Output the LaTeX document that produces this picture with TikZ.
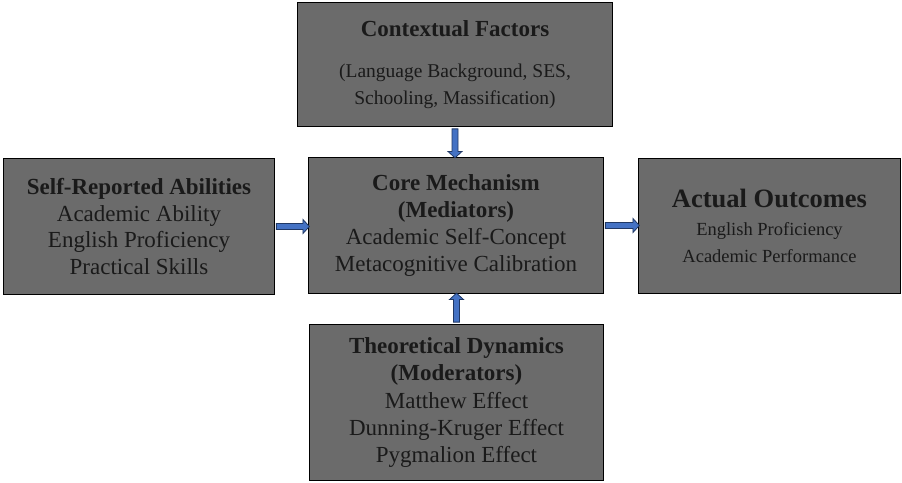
\documentclass[tikz,border=0pt]{standalone}
\usepackage{fontspec}
\setmainfont{Liberation Serif}
\usetikzlibrary{shapes.arrows}
\definecolor{boxgray}{HTML}{6B6B6B}
\definecolor{txt}{HTML}{1A1A1A}
\definecolor{arrfill}{HTML}{4472C4}
\definecolor{arrline}{HTML}{203864}
\begin{document}
\begin{tikzpicture}[x=1pt,y=-1pt,
  box/.style={draw=black, line width=1pt, fill=boxgray, text=txt, align=center,
    inner sep=0pt, anchor=north west, font=\fontsize{23}{26.7}\selectfont},
  blockarrow/.style={single arrow, draw=arrline, fill=arrfill, line width=0.8pt,
    inner xsep=0pt, inner ysep=2.6pt, single arrow head extend=4pt,
    single arrow tip angle=95, sloped, allow upside down},
]
\useasboundingbox (0,0) rectangle (902,482);

\node[box, minimum width=315, minimum height=124] (ctx) at (297,2)
  {{\bfseries Contextual Factors}\\[14pt]
   {\fontsize{19.5}{26}\selectfont (Language Background, SES,}\\
   {\fontsize{19.5}{26}\selectfont Schooling, Massification)}};

\node[box, minimum width=295, minimum height=136] (core) at (308,157)
  {\textbf{Core Mechanism}\\ \textbf{(Mediators)}\\ Academic Self-Concept\\ Metacognitive Calibration};

\node[box, minimum width=271, minimum height=136] (self) at (3,158)
  {\textbf{Self-Reported Abilities}\\ Academic Ability\\ English Proficiency\\ Practical Skills};

\node[box, minimum width=262, minimum height=135] (act) at (638,158)
  {{\fontsize{26.5}{30}\selectfont\bfseries Actual Outcomes}\\[1pt]
   {\fontsize{18.5}{27}\selectfont English Proficiency}\\
   {\fontsize{18.5}{27}\selectfont Academic Performance}};

\node[box, minimum width=294, minimum height=156,
      font=\fontsize{23}{27.3}\selectfont] (theo) at (309,324)
  {\textbf{Theoretical Dynamics}\\ \textbf{(Moderators)}\\ Matthew Effect\\ Dunning-Kruger Effect\\ Pygmalion Effect};

\path (ctx.south) -- node[blockarrow, minimum height=29] {} (ctx.south |- core.north);
\path (self.east) -- node[blockarrow, minimum height=33] {} (core.west |- self.east);
\path (core.east) -- node[blockarrow, minimum height=34] {} (act.west |- core.east);
\path (theo.north) -- node[blockarrow, minimum height=29] {} (theo.north |- core.south);
\end{tikzpicture}
\end{document}
